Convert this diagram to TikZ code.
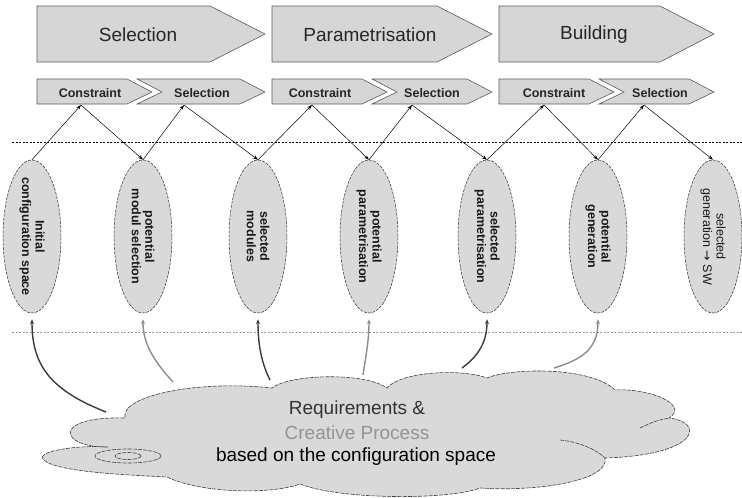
\documentclass[tikz,border=0pt]{standalone}
\usepackage{fontspec}
\setmainfont{Liberation Sans}
\newfontfamily\arrowfont{DejaVu Sans}
\usetikzlibrary{arrows.meta,shapes.geometric}
\definecolor{chevfill}{HTML}{D6D6D6}
\definecolor{chevline}{HTML}{5A5A5A}
\definecolor{ellfill}{HTML}{D9D9D9}
\definecolor{darkarr}{HTML}{3A3A3A}
\definecolor{lightarr}{HTML}{8C8C8C}
\begin{document}
\begin{tikzpicture}[x=1pt,y=-1pt,
  chev/.style={fill=chevfill, draw=chevline, line width=0.6pt, line join=miter},
  bigtxt/.style={font=\fontsize{19}{22}\selectfont, text=black!85, inner sep=0},
  smtxt/.style={font=\bfseries\fontsize{12.5}{14}\selectfont, text=black!85, inner sep=0},
  ell/.style={ellipse, fill=ellfill, draw=black!80, dash pattern=on 3pt off 1.2pt, line width=0.5pt, minimum width=58pt, minimum height=153pt, inner sep=0},
  elltxt/.style={rotate=-90, align=center, font=\fontsize{12.5}{13.5}\selectfont, text=black!90, inner sep=0},
  toparrow/.style={-{Stealth[length=5pt,width=3.5pt]}, line width=0.5pt},
  uparrow/.style={-{Stealth[length=5pt,width=4pt]}, line width=1.4pt, shorten >=6pt},
  cloudline/.style={draw=black!75, dash pattern=on 4pt off 1.2pt, line width=0.6pt},
  cloudtxt/.style={font=\fontsize{19}{22}\selectfont, inner sep=0}
]
\useasboundingbox (0,0) rectangle (742,498);

% ---- big chevrons
\draw[chev] (37,6) -- (210,6) -- (265,34) -- (210,62) -- (37,62) -- cycle;
\draw[chev] (272,6) -- (437,6) -- (492,34) -- (437,62) -- (272,62) -- cycle;
\draw[chev] (499,6) -- (660,6) -- (714,34) -- (660,62) -- (499,62) -- cycle;
\node[bigtxt] (bsel) at (138,35) {Selection};
\node[bigtxt] (bpar) at (370,35) {Parametrisation};
\node[bigtxt] (bbui) at (594,35) {Building};

% ---- small chevrons
\foreach \L/\R in {37/265, 272/492, 499/714}{
  \draw[chev] (\L,79) -- ({\L+90},79) -- ({\L+115},92) -- ({\L+90},104) -- (\L,104) -- cycle;
  \draw[chev] ({\L+100},79) -- ({\R-25},79) -- (\R,92) -- ({\R-25},104) -- ({\L+100},104) -- ({\L+125},92) -- cycle;
}
\node[smtxt] (con1) at (90,93) {Constraint};
\node[smtxt] (sel1) at (202,93) {Selection};
\node[smtxt] (con2) at (320,93) {Constraint};
\node[smtxt] (sel2) at (432,93) {Selection};
\node[smtxt] (con3) at (554,93) {Constraint};
\node[smtxt] (sel3) at (660,93) {Selection};

\coordinate (c1) at (81,105);
\coordinate (s1) at (184,105);
\coordinate (c2) at (312,105);
\coordinate (s2) at (412,105);
\coordinate (c3) at (544,105);
\coordinate (s3) at (644,105);

% ---- separator lines
\draw[black, line width=0.8pt, dash pattern=on 2pt off 1.5pt] (12,142) -- (742,142);
\draw[black!40, line width=0.5pt, dash pattern=on 2pt off 1.5pt] (12,332) -- (742,332);

% ---- ellipses
\node[ell] (e1) at (32,236.5) {};
\node[ell] (e2) at (143,236.5) {};
\node[ell] (e3) at (258,236.5) {};
\node[ell] (e4) at (369,236.5) {};
\node[ell] (e5) at (487,236.5) {};
\node[ell] (e6) at (598,236.5) {};
\node[ell] (e7) at (713,236.5) {};

\node[elltxt] (t1) at (e1) {\bfseries Initial\\\bfseries configuration space};
\node[elltxt] (t2) at (e2) {\bfseries potential\\\bfseries modul selection};
\node[elltxt] (t3) at (e3) {\bfseries selected\\\bfseries modules};
\node[elltxt] (t4) at (e4) {\bfseries potential\\\bfseries parametrisation};
\node[elltxt] (t5) at (e5) {\bfseries selected\\\bfseries parametrisation};
\node[elltxt] (t6) at (e6) {\bfseries potential\\\bfseries generation};
\node[elltxt] (t7) at (e7) {selected\\generation {\arrowfont →} SW};

% ---- top arrows
\draw[toparrow] (e1.north) -- (c1);
\draw[toparrow] (c1) -- (e2.north);
\draw[toparrow] (e2.north) -- (s1);
\draw[toparrow] (s1) -- (e3.north);
\draw[toparrow] (e3.north) -- (c2);
\draw[toparrow] (c2) -- (e4.north);
\draw[toparrow] (e4.north) -- (s2);
\draw[toparrow] (s2) -- (e5.north);
\draw[toparrow] (e5.north) -- (c3);
\draw[toparrow] (c3) -- (e6.north);
\draw[toparrow] (e6.north) -- (s3);
\draw[toparrow] (s3) -- (e7.north);

% ---- cloud
\path[cloudline, fill=ellfill] (42,457) .. controls (45,450) and (80,445) .. (108,447)
 .. controls (60,448) and (50,416) .. (125,418)
 .. controls (120,395) and (200,380) .. (272,388)
 .. controls (290,374) and (365,372) .. (387,388)
 .. controls (400,372) and (460,368) .. (487,378)
 .. controls (510,368) and (590,366) .. (615,390)
 .. controls (650,388) and (690,405) .. (669,418)
 .. controls (705,422) and (700,455) .. (605,458)
 .. controls (610,480) and (540,492) .. (480,488)
 .. controls (450,500) and (340,500) .. (300,484)
 .. controls (270,495) and (200,493) .. (167,477)
 .. controls (130,475) and (45,472) .. (42,457) -- cycle;
\draw[cloudline] (560,440) .. controls (580,442) and (597,450) .. (605,458);
\draw[cloudline] (640,428) .. controls (655,421) .. (669,418);
\draw[cloudline] (128,456) ellipse [x radius=33pt, y radius=7pt];
\draw[cloudline] (128,456) ellipse [x radius=13pt, y radius=3.5pt];

\node[cloudtxt, text=black!80] (req) at (357,410) {Requirements \&};
\node[cloudtxt, text=black!42] (cre) at (357,433) {Creative Process};
\node[cloudtxt, text=black] (bas) at (356,457) {based on the configuration space};

% ---- arrows from the cloud
\coordinate (a1) at (106,412);
\coordinate (a2) at (173,382);
\coordinate (a3) at (270,380);
\coordinate (a4) at (363,375);
\coordinate (a5) at (462,368);
\coordinate (a6) at (554,368);
\draw[uparrow, darkarr] (a1) .. controls (50,390) and (32,365) .. (e1.south);
\draw[uparrow, lightarr] (a2) .. controls (155,362) and (143,345) .. (e2.south);
\draw[uparrow, darkarr] (a3) .. controls (260,360) and (258,340) .. (e3.south);
\draw[uparrow, lightarr] (a4) .. controls (366,355) and (369,340) .. (e4.south);
\draw[uparrow, darkarr] (a5) .. controls (480,355) and (487,340) .. (e5.south);
\draw[uparrow, lightarr] (a6) .. controls (580,360) and (598,350) .. (e6.south);
\end{tikzpicture}
\end{document}
